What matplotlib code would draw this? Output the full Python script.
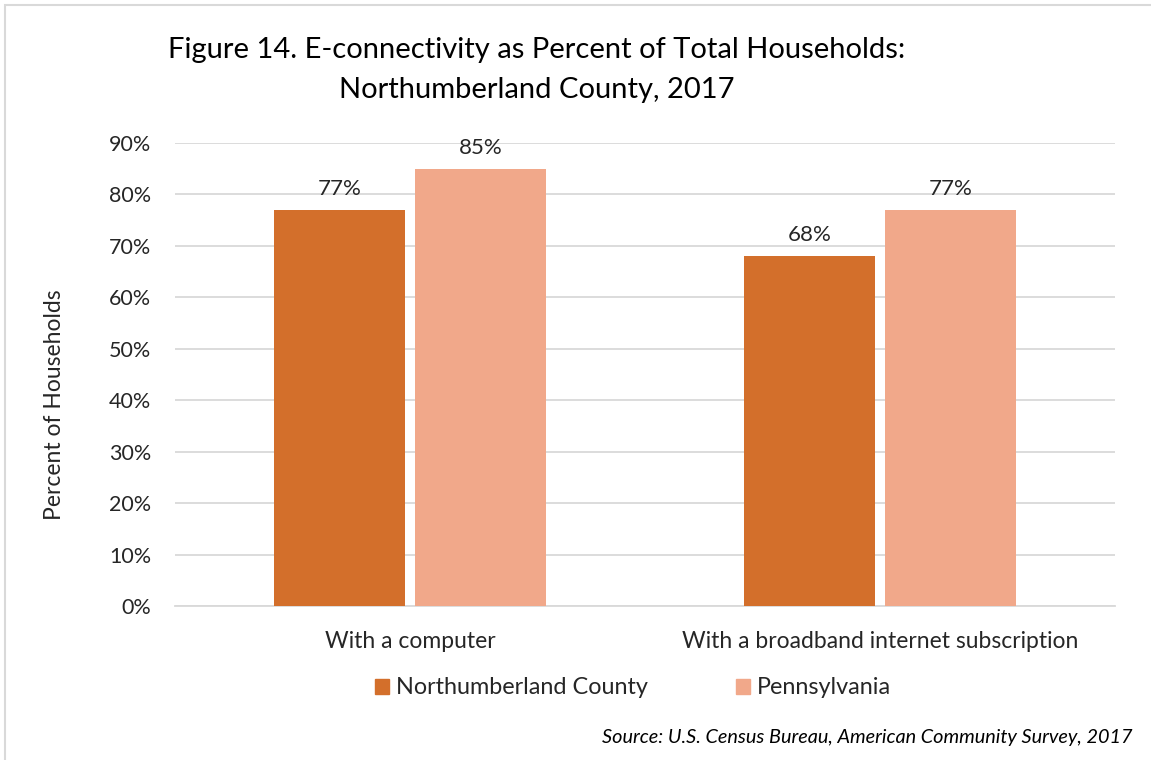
import matplotlib.pyplot as plt
import matplotlib.patches as mpatches
import numpy as np

# Data
categories = ["With a computer", "With a broadband internet subscription"]
series_names = ["Northumberland County", "Pennsylvania"]
county_values = [77, 68]
state_values = [85, 77]
y_ticks = [0, 10, 20, 30, 40, 50, 60, 70, 80, 90]

color_county = "#D36F2B"
color_state = "#F1A88A"
grid_color = "#D9D9D9"
text_color = "#262626"

plt.rcParams["font.family"] = ["Lato", "DejaVu Sans"]

W, H = 1151, 760
fig = plt.figure(figsize=(W / 100, H / 100), dpi=100)

# outer chart border
fig.patches.append(mpatches.Rectangle((5 / W, -0.01), (W - 5) / W + 0.01, 1 - 5 / H + 0.01,
                                      transform=fig.transFigure, fill=False,
                                      edgecolor="#D9D9D9", linewidth=1.5))

ax = fig.add_axes([175 / W, 1 - 606 / H, (1115 - 175) / W, (606 - 143) / H])

x = np.arange(len(categories))
bw = 0.277
gap = 0.0234
b1 = ax.bar(x - bw / 2 - gap / 2, county_values, bw, color=color_county, zorder=3)
b2 = ax.bar(x + bw / 2 + gap / 2, state_values, bw, color=color_state, zorder=3)

for bars, vals in ((b1, county_values), (b2, state_values)):
    for rect, v in zip(bars, vals):
        ax.annotate(f"{v}%", (rect.get_x() + rect.get_width() / 2, v),
                    xytext=(0, 8), textcoords="offset points",
                    ha="center", va="bottom", fontsize=16, color=text_color)

ax.set_xlim(-0.5, 1.5)
ax.set_ylim(0, 90)
ax.set_yticks(y_ticks)
ax.set_yticklabels([f"{t}%" for t in y_ticks], fontsize=15.5, color=text_color)
ax.set_xticks(x)
ax.set_xticklabels(categories, fontsize=16.5, color=text_color)
ax.tick_params(axis="both", length=0)
ax.tick_params(axis="y", pad=17)
ax.tick_params(axis="x", pad=18)
ax.yaxis.grid(True, color=grid_color, linewidth=1.3, zorder=0)
for s in ("top", "right", "left"):
    ax.spines[s].set_visible(False)
ax.spines["bottom"].set_color(grid_color)
ax.spines["bottom"].set_linewidth(1.3)

fig.text(55 / W, 1 - 405 / H, "Percent of Households", rotation=90,
         ha="center", va="center", fontsize=16.5, color=text_color)

fig.text(537 / W, 1 - 50 / H, "Figure 14. E-connectivity as Percent of Total Households:",
         ha="center", va="center", fontsize=21, color="black")
fig.text(537 / W, 1 - 90 / H, "Northumberland County, 2017",
         ha="center", va="center", fontsize=21, color="black")

handles = [mpatches.Patch(color=color_county), mpatches.Patch(color=color_state)]
fig.legend(handles, series_names, loc="center", bbox_to_anchor=(633 / W, 1 - 688 / H),
           ncol=2, frameon=False, fontsize=16.8, handlelength=0.6, handleheight=0.6,
           handletextpad=0.3, columnspacing=3.8, labelcolor=text_color)

fig.text(1133 / W, 1 - 738 / H, "Source: U.S. Census Bureau, American Community Survey, 2017",
         ha="right", va="center", fontsize=14.3, style="italic", color="black")

fig.savefig("out.png", dpi=100)
